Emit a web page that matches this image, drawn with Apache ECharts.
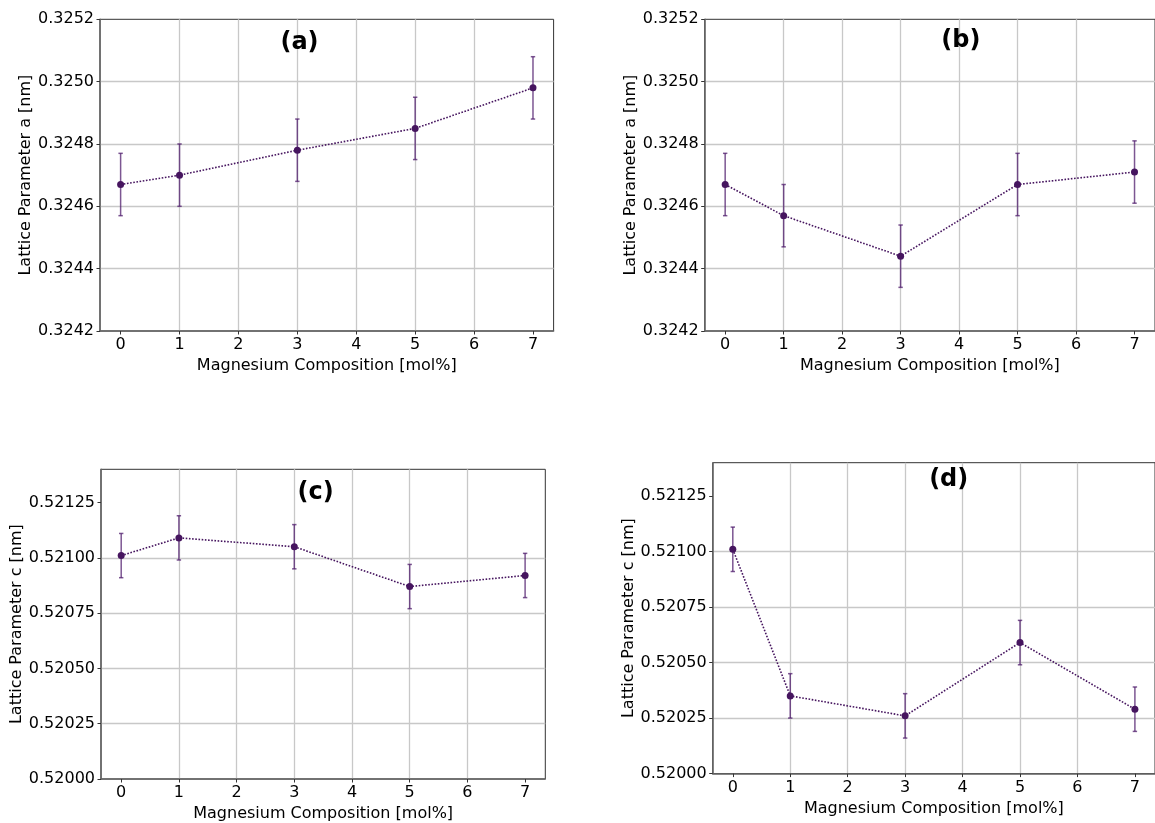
<!DOCTYPE html>
<html>
<head>
<meta charset="utf-8">
<script src="https://cdn.jsdelivr.net/npm/echarts@6/dist/echarts.min.js"></script>
<style>
html,body{margin:0;padding:0;background:#fff;}
#chart{width:1155px;height:823px;}
</style>
</head>
<body>
<div id="chart"></div>
<script>
// ---- data ----
const composition = [0, 1, 3, 5, 7];
const latticeA_a = [0.32467, 0.32470, 0.32478, 0.32485, 0.32498];
const errA_a     = [0.0001, 0.0001, 0.0001, 0.0001, 0.0001];
const latticeA_b = [0.32467, 0.32457, 0.32444, 0.32467, 0.32471];
const errA_b     = [0.0001, 0.0001, 0.0001, 0.0001, 0.0001];
const latticeC_c = [0.52101, 0.52109, 0.52105, 0.52087, 0.52092];
const errC_c     = [0.0001, 0.0001, 0.0001, 0.0001, 0.0001];
const latticeC_d = [0.52101, 0.52035, 0.52026, 0.52059, 0.52029];
const errC_d     = [0.0001, 0.0001, 0.0001, 0.0001, 0.0001];
const xTicks = [0, 1, 2, 3, 4, 5, 6, 7];
const yTicksA = [0.3242, 0.3244, 0.3246, 0.3248, 0.3250, 0.3252];
const yTicksC = [0.52000, 0.52025, 0.52050, 0.52075, 0.52100, 0.52125];
const panelLabels = ['(a)', '(b)', '(c)', '(d)'];
const xName = 'Magnesium Composition [mol%]';
const yNames = ['Lattice Parameter a [nm]', 'Lattice Parameter a [nm]', 'Lattice Parameter c [nm]', 'Lattice Parameter c [nm]'];
const xRange = [-0.35, 7.35];
const yRangeA = [0.3242, 0.3252, 0.0002];
const yRangeC = [0.5200, 0.5214, 0.00025];

// ---- layout ----
const FONT = '"DejaVu Sans", sans-serif';
const grids = [
  {left: 100,   top: 19.3,  width: 453.6, height: 311.7},
  {left: 704.7, top: 19.3,  width: 454.3, height: 311.7},
  {left: 101,   top: 469.3, width: 444.3, height: 311.4},
  {left: 712.7, top: 462.7, width: 444.3, height: 310.9}
];
const labelPos = [[299.5, 42.5], [960.8, 40.5], [315.6, 492.5], [948.7, 480]];
const panels = [
  {vals: latticeA_a, err: errA_a, yr: yRangeA, ticks: yTicksA, dec: 4, gap: 65},
  {vals: latticeA_b, err: errA_b, yr: yRangeA, ticks: yTicksA, dec: 4, gap: 65},
  {vals: latticeC_c, err: errC_c, yr: yRangeC, ticks: yTicksC, dec: 5, gap: 75},
  {vals: latticeC_d, err: errC_d, yr: yRangeC, ticks: yTicksC, dec: 5, gap: 75}
];

const LINE_COLOR = '#46155f';
const ERR_COLOR = 'rgba(80,30,110,0.75)';
const GRID_COLOR = '#c8c8c8';

const option = {
  backgroundColor: '#ffffff',
  animation: false,
  textStyle: {fontFamily: FONT},
  grid: grids.map(g => Object.assign({show: true, borderColor: '#333', borderWidth: 1, backgroundColor: 'transparent'}, g)),
  xAxis: grids.map((g, i) => ({
    type: 'value', gridIndex: i, min: xRange[0], max: xRange[1], splitNumber: 8,
    name: xName, nameLocation: 'middle', nameGap: 27,
    nameTextStyle: {fontSize: 16, color: '#000', fontFamily: FONT},
    axisLine: {show: true, onZero: false, lineStyle: {color: '#666', width: 1.5}},
    axisTick: {show: true, length: 3.5, inside: false, customValues: xTicks, lineStyle: {color: '#333'}},
    axisLabel: {fontSize: 16, color: '#000', margin: 6, fontFamily: FONT, customValues: xTicks,
      formatter: v => String(Math.round(v))},
    splitLine: {show: true, showMinLine: false, showMaxLine: false, lineStyle: {color: GRID_COLOR, width: 1.3}}
  })),
  yAxis: panels.map((p, i) => ({
    type: 'value', gridIndex: i, min: p.yr[0], max: p.yr[1], interval: p.yr[2],
    name: yNames[i], nameLocation: 'middle', nameGap: p.gap, nameRotate: 90,
    nameTextStyle: {fontSize: 16, color: '#000', fontFamily: FONT},
    axisLine: {show: true, onZero: false, lineStyle: {color: '#666', width: 1.5}},
    axisTick: {show: true, length: 3.5, inside: false, customValues: p.ticks, lineStyle: {color: '#333'}},
    axisLabel: {fontSize: 16, color: '#000', margin: 6, fontFamily: FONT, customValues: p.ticks,
      formatter: v => v.toFixed(p.dec)},
    splitLine: {show: true, showMinLine: false, showMaxLine: false, lineStyle: {color: GRID_COLOR, width: 1.3}}
  })),
  graphic: panelLabels.map((t, i) => ({
    type: 'text', x: labelPos[i][0], y: labelPos[i][1], z: 100,
    style: {text: t, font: 'bold 24px ' + FONT, fill: '#000', align: 'center', verticalAlign: 'middle', textAlign: 'center', textVerticalAlign: 'middle'}
  })),
  series: []
};

panels.forEach((p, i) => {
  option.series.push({
    type: 'custom', xAxisIndex: i, yAxisIndex: i, z: 2,
    data: composition.map((x, k) => [x, p.vals[k] - p.err[k], p.vals[k] + p.err[k]]),
    renderItem: function (params, api) {
      const lo = api.coord([api.value(0), api.value(1)]);
      const hi = api.coord([api.value(0), api.value(2)]);
      const cw = 2.2;
      const st = {stroke: ERR_COLOR, lineWidth: 1.5};
      return {type: 'group', children: [
        {type: 'line', shape: {x1: lo[0], y1: lo[1], x2: hi[0], y2: hi[1]}, style: st},
        {type: 'line', shape: {x1: lo[0] - cw, y1: lo[1], x2: lo[0] + cw, y2: lo[1]}, style: st},
        {type: 'line', shape: {x1: hi[0] - cw, y1: hi[1], x2: hi[0] + cw, y2: hi[1]}, style: st}
      ]};
    },
    silent: true
  });
  option.series.push({
    type: 'line', xAxisIndex: i, yAxisIndex: i, z: 3,
    data: composition.map((x, k) => [x, p.vals[k]]),
    symbol: 'circle', symbolSize: 7,
    itemStyle: {color: LINE_COLOR},
    lineStyle: {color: LINE_COLOR, width: 1.6, type: [1.6, 1.6]},
    silent: true
  });
});

const chart = echarts.init(document.getElementById('chart'), null, {renderer: 'canvas'});
chart.setOption(option);
</script>
</body>
</html>
